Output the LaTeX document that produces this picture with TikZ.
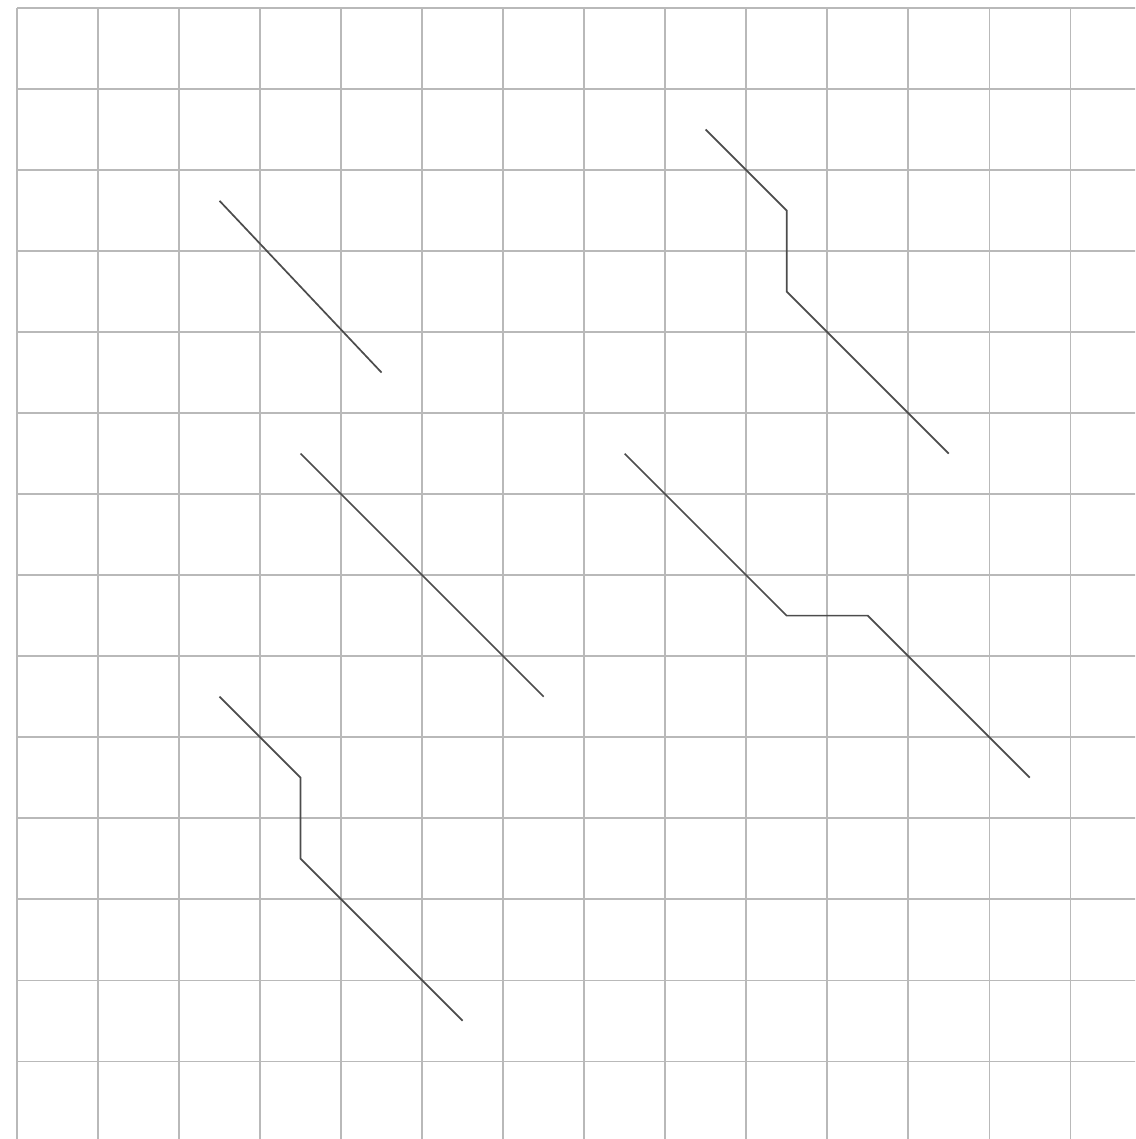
\documentclass[tikz,border=0pt]{standalone}
\begin{document}
\begin{tikzpicture}[x=1cm,y=-1cm,
  gridline/.style={draw=gray!55,line width=0.5pt},
  trace/.style={draw=black!70,line width=0.6pt,line join=miter}]
\useasboundingbox (-0.21,-0.099) rectangle (13.80,13.96);
\begin{scope}
\clip (-0.21,-0.099) rectangle (13.80,13.96);
\foreach \i in {0,...,13} {
  \draw[gridline] (\i,0) -- (\i,14);
  \draw[gridline] (0,\i) -- (14,\i);
}
\end{scope}
\draw[trace] (2.5,2.38) -- (4.5,4.5);
\draw[trace] (3.5,5.5) -- (6.5,8.5);
\draw[trace] (2.5,8.5) -- (3.5,9.5) -- (3.5,10.5) -- (5.5,12.5);
\draw[trace] (8.5,1.5) -- (9.5,2.5) -- (9.5,3.5) -- (11.5,5.5);
\draw[trace] (7.5,5.5) -- (9.5,7.5) -- (10.5,7.5) -- (12.5,9.5);
\end{tikzpicture}
\end{document}
